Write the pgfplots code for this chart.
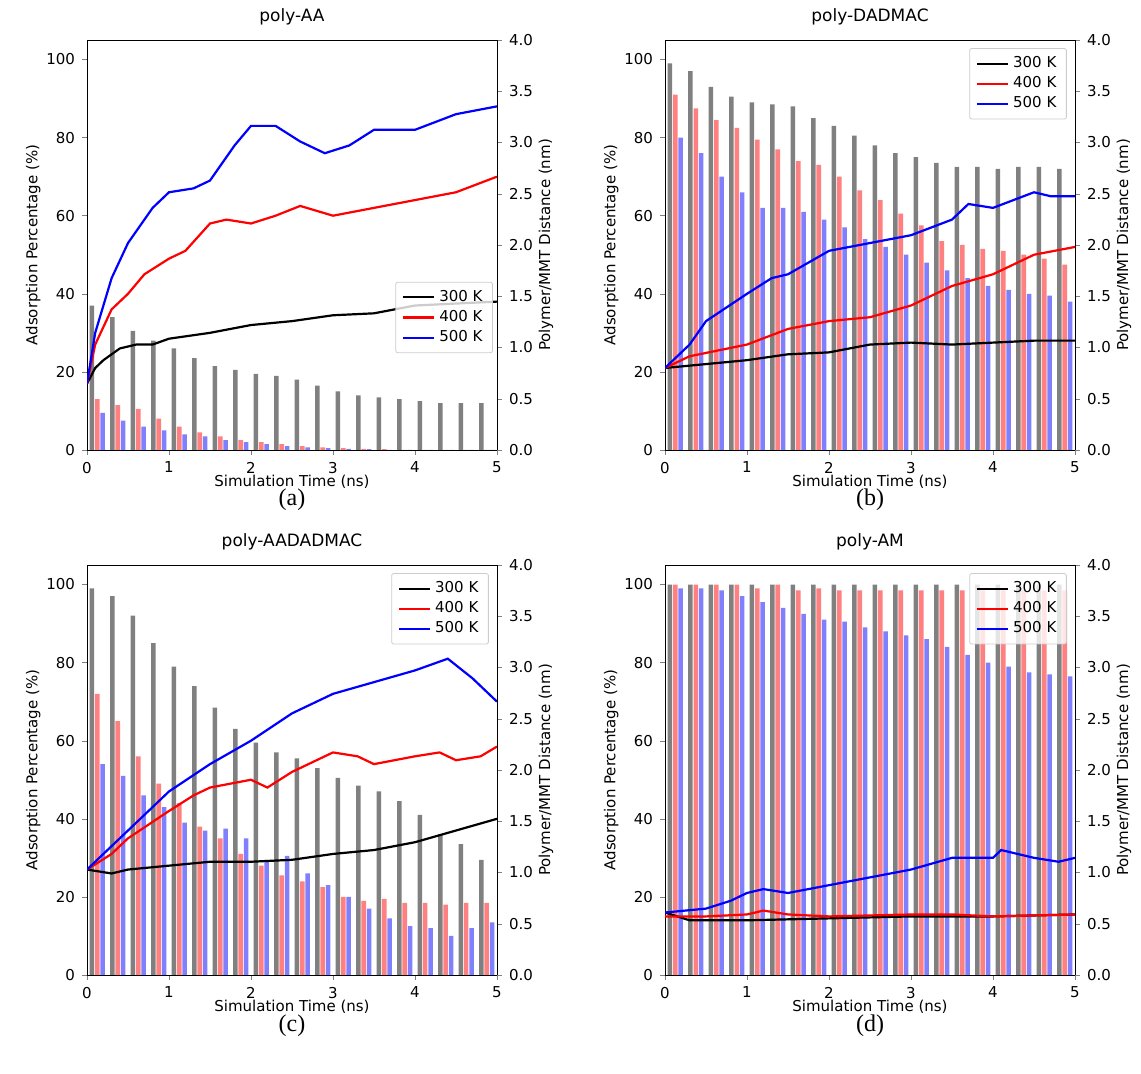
\documentclass[border=0pt]{standalone}
\usepackage{pgfplots}
\usepackage{pgfplotstable}
\pgfplotsset{compat=1.18}
\usepackage{fontspec}
\setmainfont{DejaVu Sans}
\newfontfamily\serifcap{Liberation Serif}
\definecolor{bgray}{HTML}{808080}
\definecolor{bred}{HTML}{FF8080}
\definecolor{bblue}{HTML}{8080FF}
\newcommand{\fs}{\fontsize{7.5}{9}\selectfont}
\pgfplotsset{
 base/.style={width=205pt,height=205pt,scale only axis,anchor=south west,
   xmin=0,xmax=5,tick align=outside,major tick length=2.5pt,
   /pgf/number format/assume math mode=true,
   tick label style={font=\fs},label style={font=\fs},title style={font=\fontsize{8.5}{10}\selectfont,yshift=-2pt}},
 leftax/.style={base,ymin=0,ymax=105,ytick={0,20,...,100},xtick={0,...,5},xtick pos=left,ytick pos=left,
   xlabel={Simulation Time (ns)},ylabel={Adsorption Percentage (\%)},
   xlabel style={yshift=6pt},ylabel style={yshift=-4pt},
   legend cell align=left,legend style={font=\fs,draw=black!20,fill=white,fill opacity=0.8,text opacity=1,rounded corners=1pt,row sep=-1pt}},
 rightax/.style={base,ymin=0,ymax=4,ytick={0,0.5,...,4.0},hide x axis,axis y line*=right,ytick pos=right,
   yticklabel style={/pgf/number format/.cd,fixed,fixed zerofill,precision=1},
   ylabel={Polymer/MMT Distance (nm)},ylabel style={yshift=4pt}},
 gb/.style={ybar,bar width=0.055,bar shift=-0.065,fill=bgray,draw=none,forget plot},
 rb/.style={ybar,bar width=0.055,bar shift=0,fill=bred,draw=none,forget plot},
 bb/.style={ybar,bar width=0.055,bar shift=0.065,fill=bblue,draw=none,forget plot},
 l3/.style={black,line width=1.1pt,legend image code/.code={\draw[black,line width=1.1pt,opacity=1](0cm,0cm)--(0.55cm,0cm);}},
 l4/.style={red,line width=1.1pt,legend image code/.code={\draw[red,line width=1.1pt,opacity=1](0cm,0cm)--(0.55cm,0cm);}},
 l5/.style={blue,line width=1.1pt,legend image code/.code={\draw[blue,line width=1.1pt,opacity=1](0cm,0cm)--(0.55cm,0cm);}},
}
\pgfplotstableread{
x g r b
0.125 37 13 9.5
0.375 34 11.5 7.5
0.625 30.5 10.5 6
0.875 28 8 5
1.125 26 6 4
1.375 23.5 4.5 3.5
1.625 21.5 3.5 2.5
1.875 20.5 2.5 2
2.125 19.5 2 1.5
2.375 19 1.5 1
2.625 18 1 0.7
2.875 16.5 0.7 0.5
3.125 15 0.5 0.3
3.375 14 0.3 0.2
3.625 13.5 0.2 0
3.875 13 0 0
4.125 12.5 0 0
4.375 12 0 0
4.625 12 0 0
4.875 12 0 0
}\barsA
\pgfplotstableread{
x g r b
0.125 99 91 80
0.375 97 87.5 76
0.625 93 84.5 70
0.875 90.5 82.5 66
1.125 89 79.5 62
1.375 88.5 77 62
1.625 88 74 61
1.875 85 73 59
2.125 83 70 57
2.375 80.5 66.5 54
2.625 78 64 52
2.875 76 60.5 50
3.125 75 57.5 48
3.375 73.5 53.5 46
3.625 72.5 52.5 44
3.875 72.5 51.5 42
4.125 72 51 41
4.375 72.5 50 40
4.625 72.5 49 39.5
4.875 72 47.5 38
}\barsB
\pgfplotstableread{
x g r b
0.125 99 72 54
0.375 97 65 51
0.625 92 56 46
0.875 85 49 43
1.125 79 44 39
1.375 74 38 37
1.625 68.5 35 37.5
1.875 63 31 35
2.125 59.5 28 29.5
2.375 57 25.5 30.5
2.625 55.5 24 26
2.875 53 22.5 23
3.125 50.5 20 20
3.375 48.5 19 17
3.625 47 19.5 14.5
3.875 44.5 18.5 12.5
4.125 41 18.5 12
4.375 36 18 10
4.625 33.5 18.5 12
4.875 29.5 18.5 13.5
}\barsC
\pgfplotstableread{
x g r b
0.125 100 100 99
0.375 100 100 99
0.625 100 100 98.5
0.875 100 100 97
1.125 100 99 95.5
1.375 100 100 94
1.625 100 98.5 92.5
1.875 100 99 91
2.125 100 98.5 90.5
2.375 100 98.5 89
2.625 100 98.5 88
2.875 100 98.5 87
3.125 100 98.5 86
3.375 100 98.5 84
3.625 100 98.5 82
3.875 100 98.5 80
4.125 100 98.5 79
4.375 100 98.5 77.5
4.625 100 98.5 77
4.875 100 98.5 76.5
}\barsD
\begin{document}
\begin{tikzpicture}
\path[use as bounding box] (0,0) rectangle (570.5pt,537pt);
% (a)
\begin{axis}[leftax,at={(43.5pt,312pt)},title={poly-AA},legend style={at={(0.99,0.41)},anchor=north east}]
\addplot[gb] table[x=x,y=g]{\barsA};
\addplot[rb] table[x=x,y=r]{\barsA};
\addplot[bb] table[x=x,y=b]{\barsA};
\addplot[l3] coordinates {(0,17)(0.1,21)(0.2,23)(0.4,26)(0.6,27)(0.8,27)(1,28.5)(1.5,30)(2,32)(2.5,33)(3,34.5)(3.5,35)(4,37)(4.5,37.5)(5,38)};
\addlegendentry{300 K}
\addplot[l4] coordinates {(0,17)(0.1,27)(0.3,36)(0.5,40)(0.7,45)(1,49)(1.2,51)(1.5,58)(1.7,59)(2,58)(2.3,60)(2.6,62.5)(3,60)(3.5,62)(4,64)(4.5,66)(5,70)};
\addlegendentry{400 K}
\addplot[l5] coordinates {(0,17)(0.1,30)(0.3,44)(0.5,53)(0.8,62)(1,66)(1.3,67)(1.5,69)(1.8,78)(2,83)(2.3,83)(2.6,79)(2.9,76)(3.2,78)(3.5,82)(4,82)(4.5,86)(5,88)};
\addlegendentry{500 K}
\end{axis}
\begin{axis}[rightax,at={(43.5pt,312pt)}]\end{axis}
\node[font=\serifcap\fontsize{12}{14}\selectfont] at (146pt,287pt) {(a)};
% (b)
\begin{axis}[leftax,at={(332.5pt,312pt)},title={poly-DADMAC},legend style={at={(0.98,0.98)},anchor=north east}]
\addplot[gb] table[x=x,y=g]{\barsB};
\addplot[rb] table[x=x,y=r]{\barsB};
\addplot[bb] table[x=x,y=b]{\barsB};
\addplot[l3] coordinates {(0,21)(0.5,22)(1,23)(1.5,24.5)(2,25)(2.5,27)(3,27.5)(3.5,27)(4,27.5)(4.5,28)(5,28)};
\addlegendentry{300 K}
\addplot[l4] coordinates {(0,21)(0.3,24)(1,27)(1.5,31)(2,33)(2.5,34)(3,37)(3.5,42)(4,45)(4.5,50)(5,52)};
\addlegendentry{400 K}
\addplot[l5] coordinates {(0,21)(0.3,27)(0.5,33)(1,40)(1.3,44)(1.5,45)(2,51)(2.5,53)(3,55)(3.5,59)(3.7,63)(4,62)(4.5,66)(4.7,65)(5,65)};
\addlegendentry{500 K}
\end{axis}
\begin{axis}[rightax,at={(332.5pt,312pt)}]\end{axis}
\node[font=\serifcap\fontsize{12}{14}\selectfont] at (435pt,287pt) {(b)};
% (c)
\begin{axis}[leftax,at={(43.5pt,49.5pt)},title={poly-AADADMAC},legend style={at={(0.98,0.98)},anchor=north east}]
\addplot[gb] table[x=x,y=g]{\barsC};
\addplot[rb] table[x=x,y=r]{\barsC};
\addplot[bb] table[x=x,y=b]{\barsC};
\addplot[l3] coordinates {(0,27)(0.3,26)(0.5,27)(1,28)(1.5,29)(2,29)(2.5,29.5)(3,31)(3.5,32)(4,34)(4.5,37)(5,40)};
\addlegendentry{300 K}
\addplot[l4] coordinates {(0,27)(0.3,31)(0.5,35)(1,42)(1.3,46)(1.5,48)(2,50)(2.2,48)(2.5,52)(3,57)(3.3,56)(3.5,54)(4,56)(4.3,57)(4.5,55)(4.8,56)(5,58.5)};
\addlegendentry{400 K}
\addplot[l5] coordinates {(0,27)(0.3,33)(0.5,37)(0.8,43)(1,47)(1.5,54)(2,60)(2.5,67)(3,72)(3.5,75)(4,78)(4.4,81)(4.7,76)(5,70)};
\addlegendentry{500 K}
\end{axis}
\begin{axis}[rightax,at={(43.5pt,49.5pt)}]\end{axis}
\node[font=\serifcap\fontsize{12}{14}\selectfont] at (146pt,24pt) {(c)};
% (d)
\begin{axis}[leftax,at={(332.5pt,49.5pt)},title={poly-AM},legend style={at={(0.98,0.98)},anchor=north east}]
\addplot[gb] table[x=x,y=g]{\barsD};
\addplot[rb] table[x=x,y=r]{\barsD};
\addplot[bb] table[x=x,y=b]{\barsD};
\addplot[l3] coordinates {(0,16)(0.3,14)(1,14)(2,14.5)(3,15)(4,15)(5,15.5)};
\addlegendentry{300 K}
\addplot[l4] coordinates {(0,15)(0.5,15)(1,15.5)(1.2,16.5)(1.5,15.5)(2,15)(3,15.5)(3.5,15.5)(4,15)(5,15.5)};
\addlegendentry{400 K}
\addplot[l5] coordinates {(0,16)(0.5,17)(0.8,19)(1,21)(1.2,22)(1.5,21)(2,23)(2.5,25)(3,27)(3.5,30)(4,30)(4.1,32)(4.5,30)(4.8,29)(5,30)};
\addlegendentry{500 K}
\end{axis}
\begin{axis}[rightax,at={(332.5pt,49.5pt)}]\end{axis}
\node[font=\serifcap\fontsize{12}{14}\selectfont] at (435pt,24pt) {(d)};
\end{tikzpicture}
\end{document}
